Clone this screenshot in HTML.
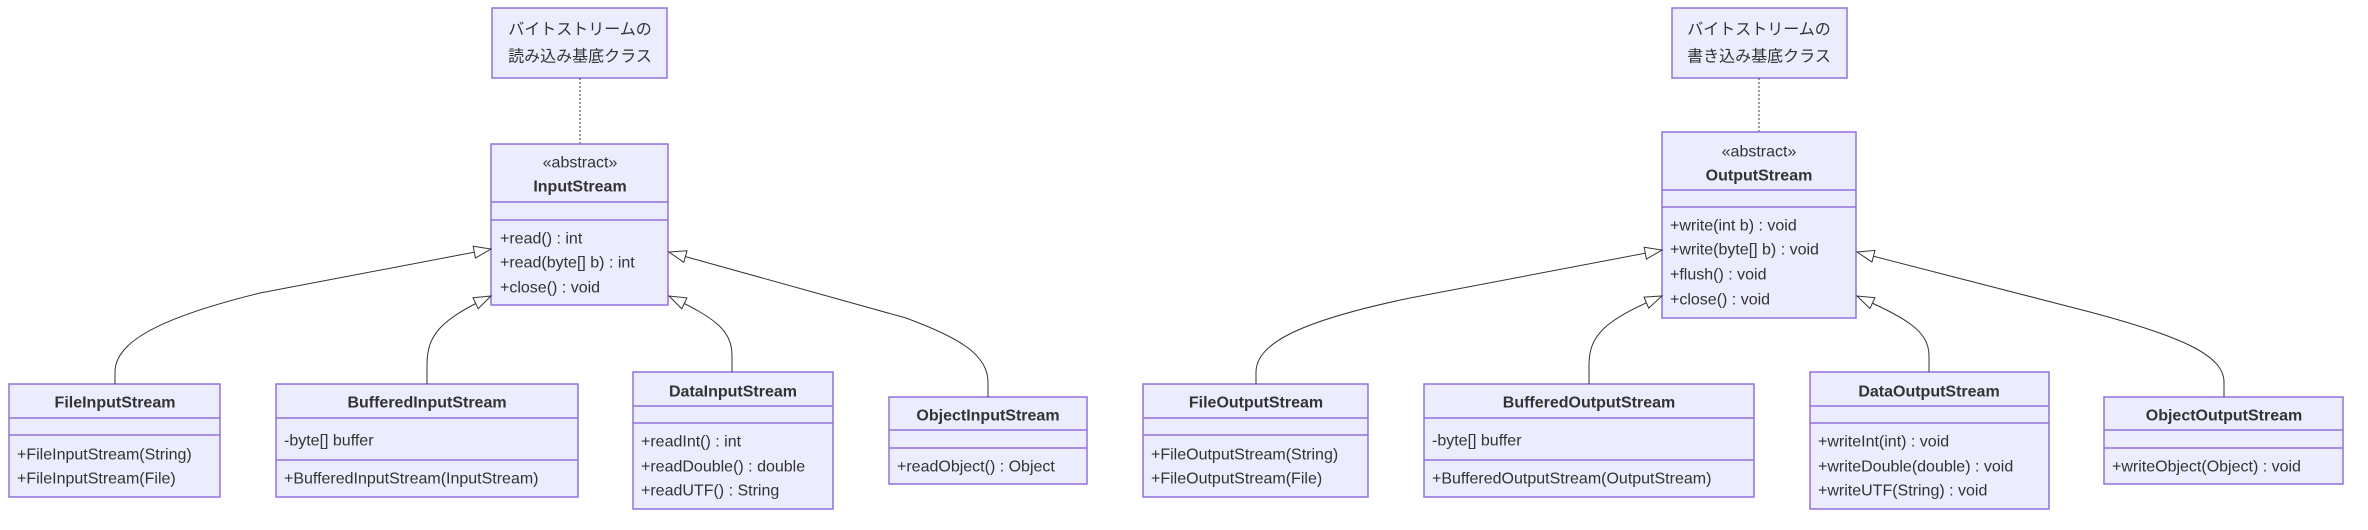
<!DOCTYPE html>
<html><head><meta charset="utf-8"><style>
html,body{margin:0;padding:0;background:#fff;}
svg{display:block;}
text{font-family:"Liberation Sans","Noto Sans CJK JP",sans-serif;font-size:16px;fill:#333;dominant-baseline:central;}
.b{font-weight:bold;}
.c{text-anchor:middle;}
rect{fill:#ECECFF;stroke:#9370DB;stroke-width:1.5;}
.d{stroke:#9370DB;stroke-width:1.5;}
.e{fill:none;stroke:#333;stroke-width:1;}
</style></head><body>
<svg width="2368" height="530" viewBox="0 0 2368 530" xmlns="http://www.w3.org/2000/svg">
<defs>
<marker id="t" markerUnits="userSpaceOnUse" markerWidth="20" markerHeight="16" refX="18" refY="7" orient="auto">
<path d="M1,1 L18,7 L1,13 Z" fill="#fff" stroke="#333" stroke-width="1"/>
</marker>
</defs>

<!-- LEFT -->
<rect x="492" y="8" width="175" height="70"/>
<text class="c" x="580" y="30">バイトストリームの</text>
<text class="c" x="580" y="57">読み込み基底クラス</text>
<line x1="580" y1="78" x2="580" y2="144" stroke="#333" stroke-dasharray="2,2"/>

<rect x="491" y="144" width="177" height="161"/>
<line class="d" x1="491" y1="202" x2="668" y2="202"/>
<line class="d" x1="491" y1="220" x2="668" y2="220"/>
<text class="c" x="580" y="163">«abstract»</text>
<text class="c b" x="580" y="187">InputStream</text>
<text x="500" y="239">+read() : int</text>
<text x="500" y="263">+read(byte[] b) : int</text>
<text x="500" y="288">+close() : void</text>

<rect x="9" y="384" width="211" height="113"/>
<line class="d" x1="9" y1="418" x2="220" y2="418"/>
<line class="d" x1="9" y1="435" x2="220" y2="435"/>
<text class="c b" x="115" y="403">FileInputStream</text>
<text x="17" y="455">+FileInputStream(String)</text>
<text x="17" y="479">+FileInputStream(File)</text>

<rect x="276" y="384" width="302" height="113"/>
<line class="d" x1="276" y1="418" x2="578" y2="418"/>
<line class="d" x1="276" y1="460" x2="578" y2="460"/>
<text class="c b" x="427" y="403">BufferedInputStream</text>
<text x="284" y="441">-byte[] buffer</text>
<text x="284" y="479">+BufferedInputStream(InputStream)</text>

<rect x="633" y="372" width="200" height="137"/>
<line class="d" x1="633" y1="406" x2="833" y2="406"/>
<line class="d" x1="633" y1="423" x2="833" y2="423"/>
<text class="c b" x="733" y="392">DataInputStream</text>
<text x="641" y="442">+readInt() : int</text>
<text x="641" y="467">+readDouble() : double</text>
<text x="641" y="491">+readUTF() : String</text>

<rect x="889" y="397" width="198" height="87"/>
<line class="d" x1="889" y1="430" x2="1087" y2="430"/>
<line class="d" x1="889" y1="448" x2="1087" y2="448"/>
<text class="c b" x="988" y="416">ObjectInputStream</text>
<text x="897" y="467">+readObject() : Object</text>

<path class="e" marker-end="url(#t)" d="M115,384 L115,372 C115,345 150,320 260,293 L491,249"/>
<path class="e" marker-end="url(#t)" d="M427,384 L427,365 C427,335 440,320 491,296"/>
<path class="e" marker-end="url(#t)" d="M732,372 L732,356 C732,330 715,318 669,296"/>
<path class="e" marker-end="url(#t)" d="M988,397 L988,382 C988,355 960,338 906,318 L669,252"/>

<!-- RIGHT -->
<rect x="1672" y="8" width="175" height="70"/>
<text class="c" x="1759" y="30">バイトストリームの</text>
<text class="c" x="1759" y="57">書き込み基底クラス</text>
<line x1="1759" y1="78" x2="1759" y2="132" stroke="#333" stroke-dasharray="2,2"/>

<rect x="1662" y="132" width="194" height="186"/>
<line class="d" x1="1662" y1="190" x2="1856" y2="190"/>
<line class="d" x1="1662" y1="207" x2="1856" y2="207"/>
<text class="c" x="1759" y="152">«abstract»</text>
<text class="c b" x="1759" y="176">OutputStream</text>
<text x="1670" y="226">+write(int b) : void</text>
<text x="1670" y="250">+write(byte[] b) : void</text>
<text x="1670" y="275">+flush() : void</text>
<text x="1670" y="300">+close() : void</text>

<rect x="1143" y="384" width="225" height="113"/>
<line class="d" x1="1143" y1="418" x2="1368" y2="418"/>
<line class="d" x1="1143" y1="435" x2="1368" y2="435"/>
<text class="c b" x="1256" y="403">FileOutputStream</text>
<text x="1151" y="455">+FileOutputStream(String)</text>
<text x="1151" y="479">+FileOutputStream(File)</text>

<rect x="1424" y="384" width="330" height="113"/>
<line class="d" x1="1424" y1="418" x2="1754" y2="418"/>
<line class="d" x1="1424" y1="460" x2="1754" y2="460"/>
<text class="c b" x="1589" y="403">BufferedOutputStream</text>
<text x="1432" y="441">-byte[] buffer</text>
<text x="1432" y="479">+BufferedOutputStream(OutputStream)</text>

<rect x="1810" y="372" width="239" height="137"/>
<line class="d" x1="1810" y1="406" x2="2049" y2="406"/>
<line class="d" x1="1810" y1="423" x2="2049" y2="423"/>
<text class="c b" x="1929" y="392">DataOutputStream</text>
<text x="1818" y="442">+writeInt(int) : void</text>
<text x="1818" y="467">+writeDouble(double) : void</text>
<text x="1818" y="491">+writeUTF(String) : void</text>

<rect x="2104" y="397" width="239" height="87"/>
<line class="d" x1="2104" y1="430" x2="2343" y2="430"/>
<line class="d" x1="2104" y1="448" x2="2343" y2="448"/>
<text class="c b" x="2224" y="416">ObjectOutputStream</text>
<text x="2112" y="467">+writeObject(Object) : void</text>

<path class="e" marker-end="url(#t)" d="M1256,384 L1256,372 C1256,345 1295,322 1410,298 L1662,250"/>
<path class="e" marker-end="url(#t)" d="M1589,384 L1589,365 C1589,335 1605,320 1662,296"/>
<path class="e" marker-end="url(#t)" d="M1929,372 L1929,356 C1929,330 1905,318 1857,296"/>
<path class="e" marker-end="url(#t)" d="M2224,397 L2224,382 C2224,355 2180,336 2090,312 L1857,252"/>
</svg>
</body></html>
